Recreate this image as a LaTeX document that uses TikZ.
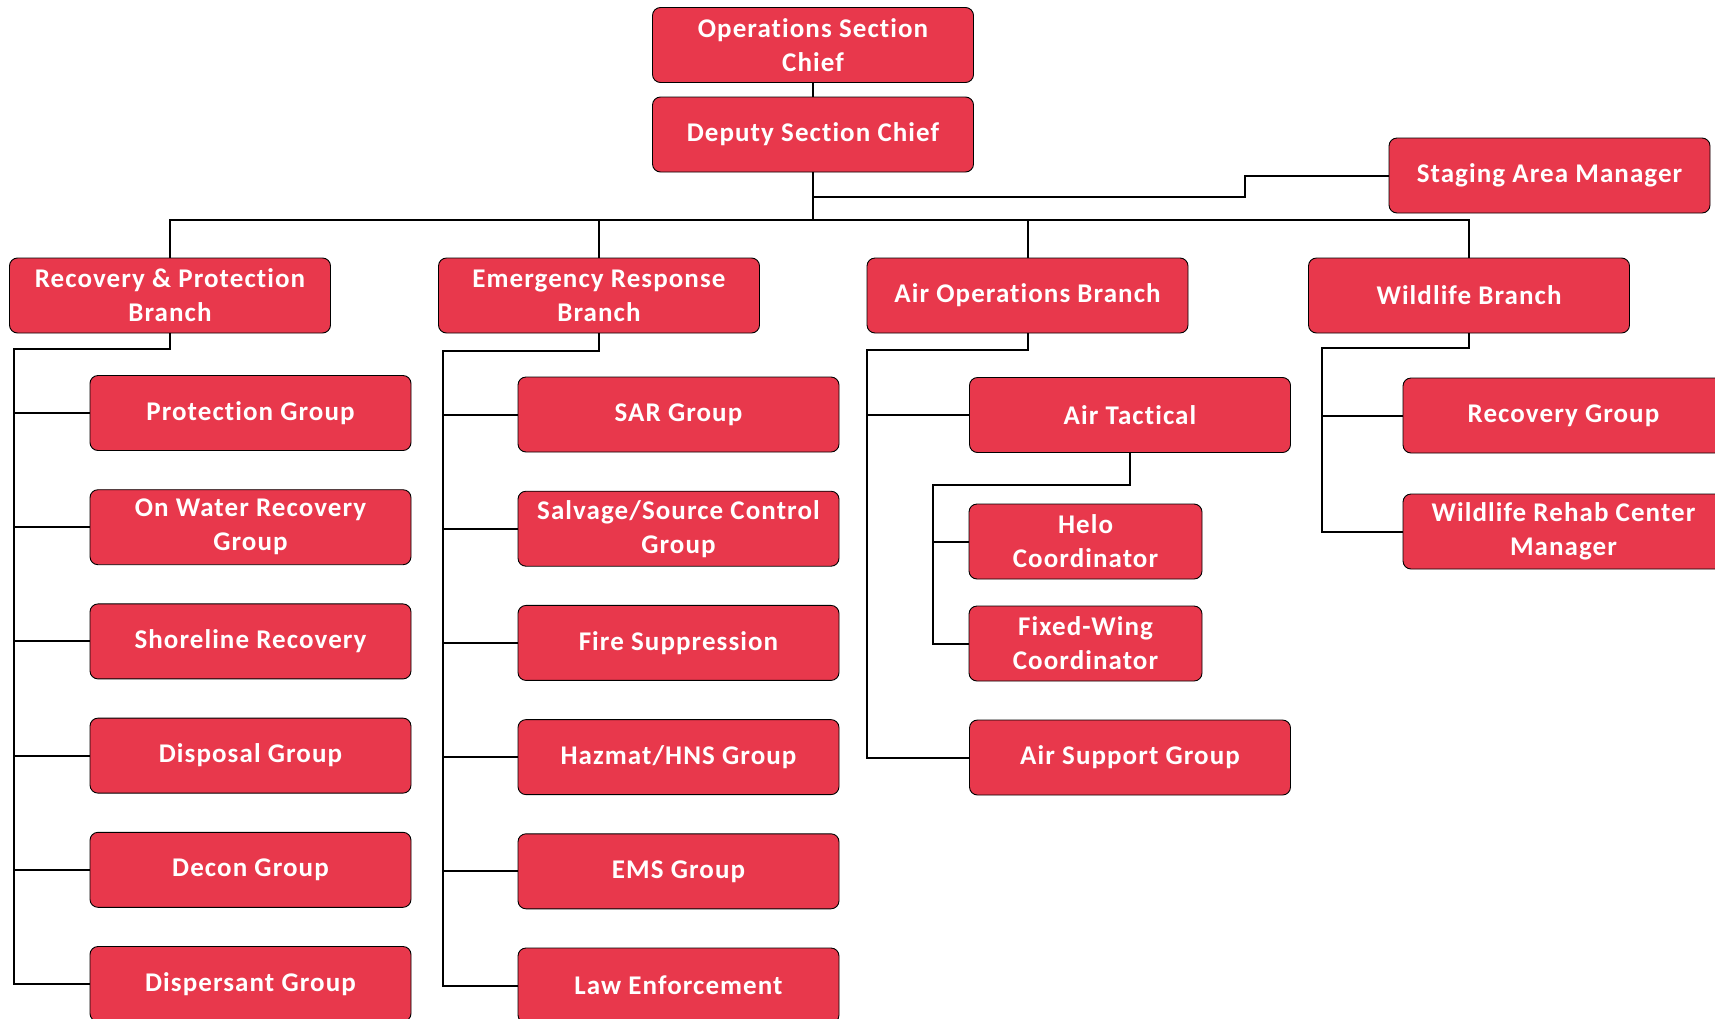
\documentclass[tikz,border=0pt]{standalone}
\usepackage{fontspec}
\setmainfont{Carlito}[LetterSpace=4, Ligatures=NoCommon]
\definecolor{boxred}{HTML}{E8384C}
\begin{document}
\begin{tikzpicture}[x=1pt,y=-1pt,
  unit/.style={draw=black, line width=0.9pt, fill=boxred, rounded corners=8pt,
    minimum width=321pt, minimum height=75pt, inner sep=2pt, align=center,
    text=white, font=\fontsize{27}{34}\selectfont\bfseries},
  link/.style={draw=black, line width=2pt}]
\useasboundingbox (0,0) rectangle (1715,1018);
\clip (0,0) rectangle (1715,1018);

% command staff
\node[unit] (ops) at (813,45) {Operations Section\\Chief};
\node[unit] (dep) at (813,134.5) {Deputy Section Chief};
\node[unit] (sam) at (1549.5,175.5) {Staging Area Manager};

% branches
\node[unit] (rp) at (170,295.5) {Recovery \& Protection\\Branch};
\node[unit] (er) at (599,295.5) {Emergency Response\\Branch};
\node[unit] (ao) at (1027.5,295.5) {Air Operations Branch};
\node[unit] (wb) at (1469,295.5) {Wildlife Branch};

% recovery & protection groups
\node[unit] (pg)  at (250.5,413)   {Protection Group};
\node[unit] (owr) at (250.5,527.2) {On Water Recovery\\Group};
\node[unit] (sr)  at (250.5,641.4) {Shoreline Recovery};
\node[unit] (dg)  at (250.5,755.6) {Disposal Group};
\node[unit] (dc)  at (250.5,869.8) {Decon Group};
\node[unit] (dsp) at (250.5,984)   {Dispersant Group};

% emergency response groups
\node[unit] (sar) at (678.5,414.5) {SAR Group};
\node[unit] (ssc) at (678.5,528.7) {Salvage/Source Control\\Group};
\node[unit] (fs)  at (678.5,642.9) {Fire Suppression};
\node[unit] (hz)  at (678.5,757.1) {Hazmat/HNS Group};
\node[unit] (ems) at (678.5,871.3) {EMS Group};
\node[unit] (le)  at (678.5,985.5) {Law Enforcement};

% air operations
\node[unit] (at) at (1130,415) {Air Tactical};
\node[unit, minimum width=233pt] (hc) at (1085.5,541.5) {Helo\\Coordinator};
\node[unit, minimum width=233pt] (fw) at (1085.5,643.5) {Fixed-Wing\\Coordinator};
\node[unit] (as) at (1130,757.5) {Air Support Group};

% wildlife
\node[unit] (rg) at (1563.5,415.5) {Recovery Group};
\node[unit] (wr) at (1563.5,531.5) {Wildlife Rehab Center\\Manager};

% junction points
\coordinate (bus)   at (813,220);
\coordinate (sj)    at (813,197);
\coordinate (sbend) at (1245,197);
\coordinate (rpx)   at (14,349);
\coordinate (erx)   at (443,351);
\coordinate (aox)   at (867,350);
\coordinate (atx)   at (933,485);
\coordinate (wbx)   at (1322,348);

% connectors
\draw[link] (ops) -- (dep);
\draw[link] (dep.south) -- (bus);
\draw[link] (sj) -- (sbend) |- (sam.west);
\draw[link] (rp.north) |- (bus) -| (wb.north);
\draw[link] (er.north) |- (bus);
\draw[link] (ao.north) |- (bus);

\draw[link] (rp.south) |- (rpx) |- (dsp.west);
\foreach \n in {pg,owr,sr,dg,dc} \draw[link] (rpx) |- (\n.west);

\draw[link] (er.south) |- (erx) |- (le.west);
\foreach \n in {sar,ssc,fs,hz,ems} \draw[link] (erx) |- (\n.west);

\draw[link] (ao.south) |- (aox) |- (as.west);
\draw[link] (aox) |- (at.west);
\draw[link] (at.south) |- (atx) |- (fw.west);
\draw[link] (atx) |- (hc.west);

\draw[link] (wb.south) |- (wbx) |- (wr.west);
\draw[link] (wbx) |- (rg.west);
\end{tikzpicture}
\end{document}
